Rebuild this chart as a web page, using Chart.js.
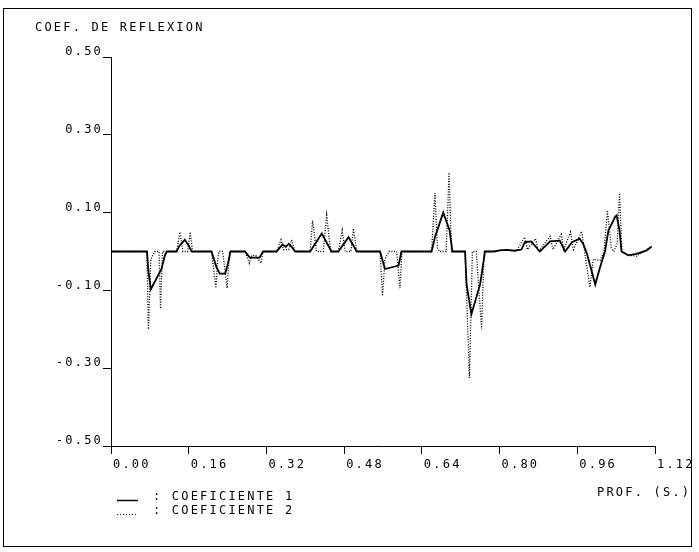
<!DOCTYPE html>
<html>
<head>
<meta charset="utf-8">
<script src="https://cdn.jsdelivr.net/npm/chart.js@4"></script>
<style>
  html, body { margin: 0; padding: 0; background: #fff; }
  canvas { display: block; }
</style>
</head>
<body>
<canvas id="coefChart" width="699" height="552"></canvas>
<script>
// profundidad (s) y coeficiente 1 (linea continua)
const coef1X = [0, 0.074, 0.077, 0.082, 0.104, 0.111, 0.115, 0.135, 0.141, 0.152, 0.160, 0.166,
  0.207, 0.217, 0.224, 0.235, 0.241, 0.246, 0.276, 0.286, 0.306, 0.313,
  0.341, 0.353, 0.360, 0.366, 0.372, 0.379, 0.410, 0.434, 0.454, 0.468, 0.489, 0.506,
  0.554, 0.564, 0.592, 0.598, 0.660, 0.667, 0.684, 0.697, 0.703,
  0.729, 0.732, 0.742, 0.760, 0.770, 0.790, 0.800, 0.815, 0.830, 0.845, 0.852, 0.865, 0.883,
  0.904, 0.924, 0.935, 0.949, 0.965, 0.972, 0.980, 0.997, 1.007, 1.017, 1.024, 1.038, 1.041,
  1.047, 1.051, 1.065, 1.082, 1.103, 1.113];
const coef1Y = [0, 0, -0.050, -0.097, -0.045, -0.010, 0, 0, 0.015, 0.030, 0.015, 0,
  0, -0.040, -0.057, -0.057, -0.030, 0, 0, -0.016, -0.016, 0,
  0, 0.018, 0.012, 0.020, 0.012, 0, 0, 0.046, 0, 0, 0.037, 0,
  0, -0.045, -0.036, 0, 0, 0.037, 0.100, 0.055, 0,
  0, -0.084, -0.161, -0.084, 0, 0, 0.003, 0.004, 0.002, 0.005, 0.024, 0.026, 0,
  0.026, 0.028, 0, 0.024, 0.033, 0.020, -0.006, -0.085, -0.040, 0, 0.054, 0.089, 0.093,
  0.054, 0, -0.010, -0.006, 0.003, 0.013];

// coeficiente 2 (linea punteada)
const coef2X = [0, 0.074, 0.077, 0.082, 0.090, 0.099, 0.102, 0.106,
  0.135, 0.142, 0.148, 0.158, 0.163, 0.168,
  0.207, 0.216, 0.220, 0.222, 0.230, 0.239, 0.244,
  0.276, 0.285, 0.290, 0.298, 0.309, 0.313,
  0.341, 0.350, 0.355, 0.366, 0.372, 0.379,
  0.410, 0.415, 0.423, 0.437, 0.444, 0.452,
  0.468, 0.476, 0.482, 0.494, 0.499, 0.506,
  0.554, 0.559, 0.564, 0.572, 0.588, 0.595, 0.599,
  0.660, 0.667, 0.672, 0.676, 0.690, 0.696, 0.701,
  0.729, 0.738, 0.744, 0.752, 0.763, 0.768,
  0.780, 0.800, 0.820, 0.835, 0.852, 0.857, 0.874, 0.880, 0.904, 0.910, 0.927, 0.932,
  0.946, 0.952, 0.969, 0.975, 0.986, 0.993, 1.007, 1.015, 1.022, 1.030, 1.035, 1.042,
  1.047, 1.052, 1.065, 1.082, 1.100, 1.113];
const coef2Y = [0, 0, -0.200, -0.020, 0, 0, -0.147, 0,
  0, 0.050, 0, 0, 0.050, 0,
  0, -0.094, -0.020, 0, 0, -0.094, 0,
  0, -0.030, -0.010, -0.010, -0.030, 0,
  0, 0.030, 0.005, 0.005, 0.030, 0,
  0, 0.080, 0, 0, 0.093, 0,
  0, 0.054, 0, 0, 0.059, 0,
  0, -0.114, -0.020, 0, 0, -0.094, 0,
  0, 0.150, 0.010, 0, 0, 0.203, 0,
  0, -0.325, 0, 0, -0.200, 0,
  0, 0.003, 0.004, 0.002, 0.037, 0.005, 0.033, 0, 0.039, 0.005, 0.044, 0.005,
  0.050, 0.005, 0.052, 0, -0.092, -0.020, -0.023, 0, 0.106, 0.010, 0, 0.020,
  0.150, 0, -0.010, -0.012, 0.003, 0.013];

const xTicks = [0, 0.16, 0.32, 0.48, 0.64, 0.80, 0.96, 1.12];
const yTicks = [-0.5, -0.3, -0.1, 0.1, 0.3, 0.5];

const FAMILY = '"DejaVu Sans Mono", monospace';
const FONT = '12px ' + FAMILY;
const SPACING = '2.2px';
const INK = '#000';

const toPoints = (xs, ys) => xs.map((x, i) => ({ x: x, y: ys[i] }));

// marco, titulo, rotulo del eje x y leyenda
const plotterText = {
  id: 'plotterText',
  beforeDraw(chart) {
    chart.ctx.letterSpacing = SPACING;
  },
  afterDraw(chart) {
    const ctx = chart.ctx;
    ctx.save();
    ctx.letterSpacing = SPACING;
    ctx.font = FONT;
    ctx.fillStyle = INK;
    ctx.strokeStyle = INK;
    ctx.textBaseline = 'alphabetic';
    ctx.textAlign = 'left';

    ctx.lineWidth = 1;
    ctx.strokeRect(3.5, 8.5, 688, 538);

    ctx.fillText('COEF. DE REFLEXION', 35, 31);
    ctx.fillText('PROF. (S.)', 597, 496);

    ctx.fillText(': COEFICIENTE 1', 153, 500);
    ctx.fillText(': COEFICIENTE 2', 153, 514);

    ctx.lineWidth = 1.5;
    ctx.beginPath();
    ctx.moveTo(117, 500.5);
    ctx.lineTo(138, 500.5);
    ctx.stroke();

    ctx.lineWidth = 1;
    ctx.setLineDash([1, 2]);
    ctx.beginPath();
    ctx.moveTo(117, 514.5);
    ctx.lineTo(138, 514.5);
    ctx.stroke();
    ctx.restore();
  }
};

new Chart(document.getElementById('coefChart').getContext('2d'), {
  type: 'scatter',
  data: {
    datasets: [{
      label: 'COEFICIENTE 1',
      data: toPoints(coef1X, coef1Y),
      showLine: true,
      borderColor: INK,
      borderWidth: 1.8,
      pointRadius: 0,
      tension: 0
    }, {
      label: 'COEFICIENTE 2',
      data: toPoints(coef2X, coef2Y),
      showLine: true,
      borderColor: INK,
      borderWidth: 1.3,
      borderDash: [1, 1.6],
      pointRadius: 0,
      tension: 0
    }]
  },
  options: {
    responsive: false,
    animation: false,
    devicePixelRatio: 1,
    events: [],
    layout: { padding: { top: 57, right: 44, left: 0, bottom: 0 } },
    plugins: { legend: { display: false }, tooltip: { enabled: false } },
    scales: {
      x: {
        type: 'linear',
        min: 0,
        max: 1.12,
        afterBuildTicks: s => { s.ticks = xTicks.map(v => ({ value: v })); },
        afterFit: s => { s.height = 106; },
        border: { display: true, color: INK, width: 1 },
        grid: { drawOnChartArea: false, drawTicks: true, tickLength: 8, color: INK },
        ticks: {
          align: 'start',
          padding: 4,
          labelOffset: 2,
          color: INK,
          font: { family: FAMILY, size: 12 },
          callback: v => v.toFixed(2)
        }
      },
      y: {
        min: -0.5,
        max: 0.5,
        afterBuildTicks: s => { s.ticks = yTicks.map(v => ({ value: v })); },
        afterFit: s => { s.width = 111; },
        border: { display: true, color: INK, width: 1 },
        grid: { drawOnChartArea: false, drawTicks: true, tickLength: 8, color: INK },
        ticks: {
          padding: 0,
          labelOffset: -5,
          color: INK,
          font: { family: FAMILY, size: 12 },
          callback: v => v.toFixed(2)
        }
      }
    }
  },
  plugins: [plotterText]
});
</script>
</body>
</html>
